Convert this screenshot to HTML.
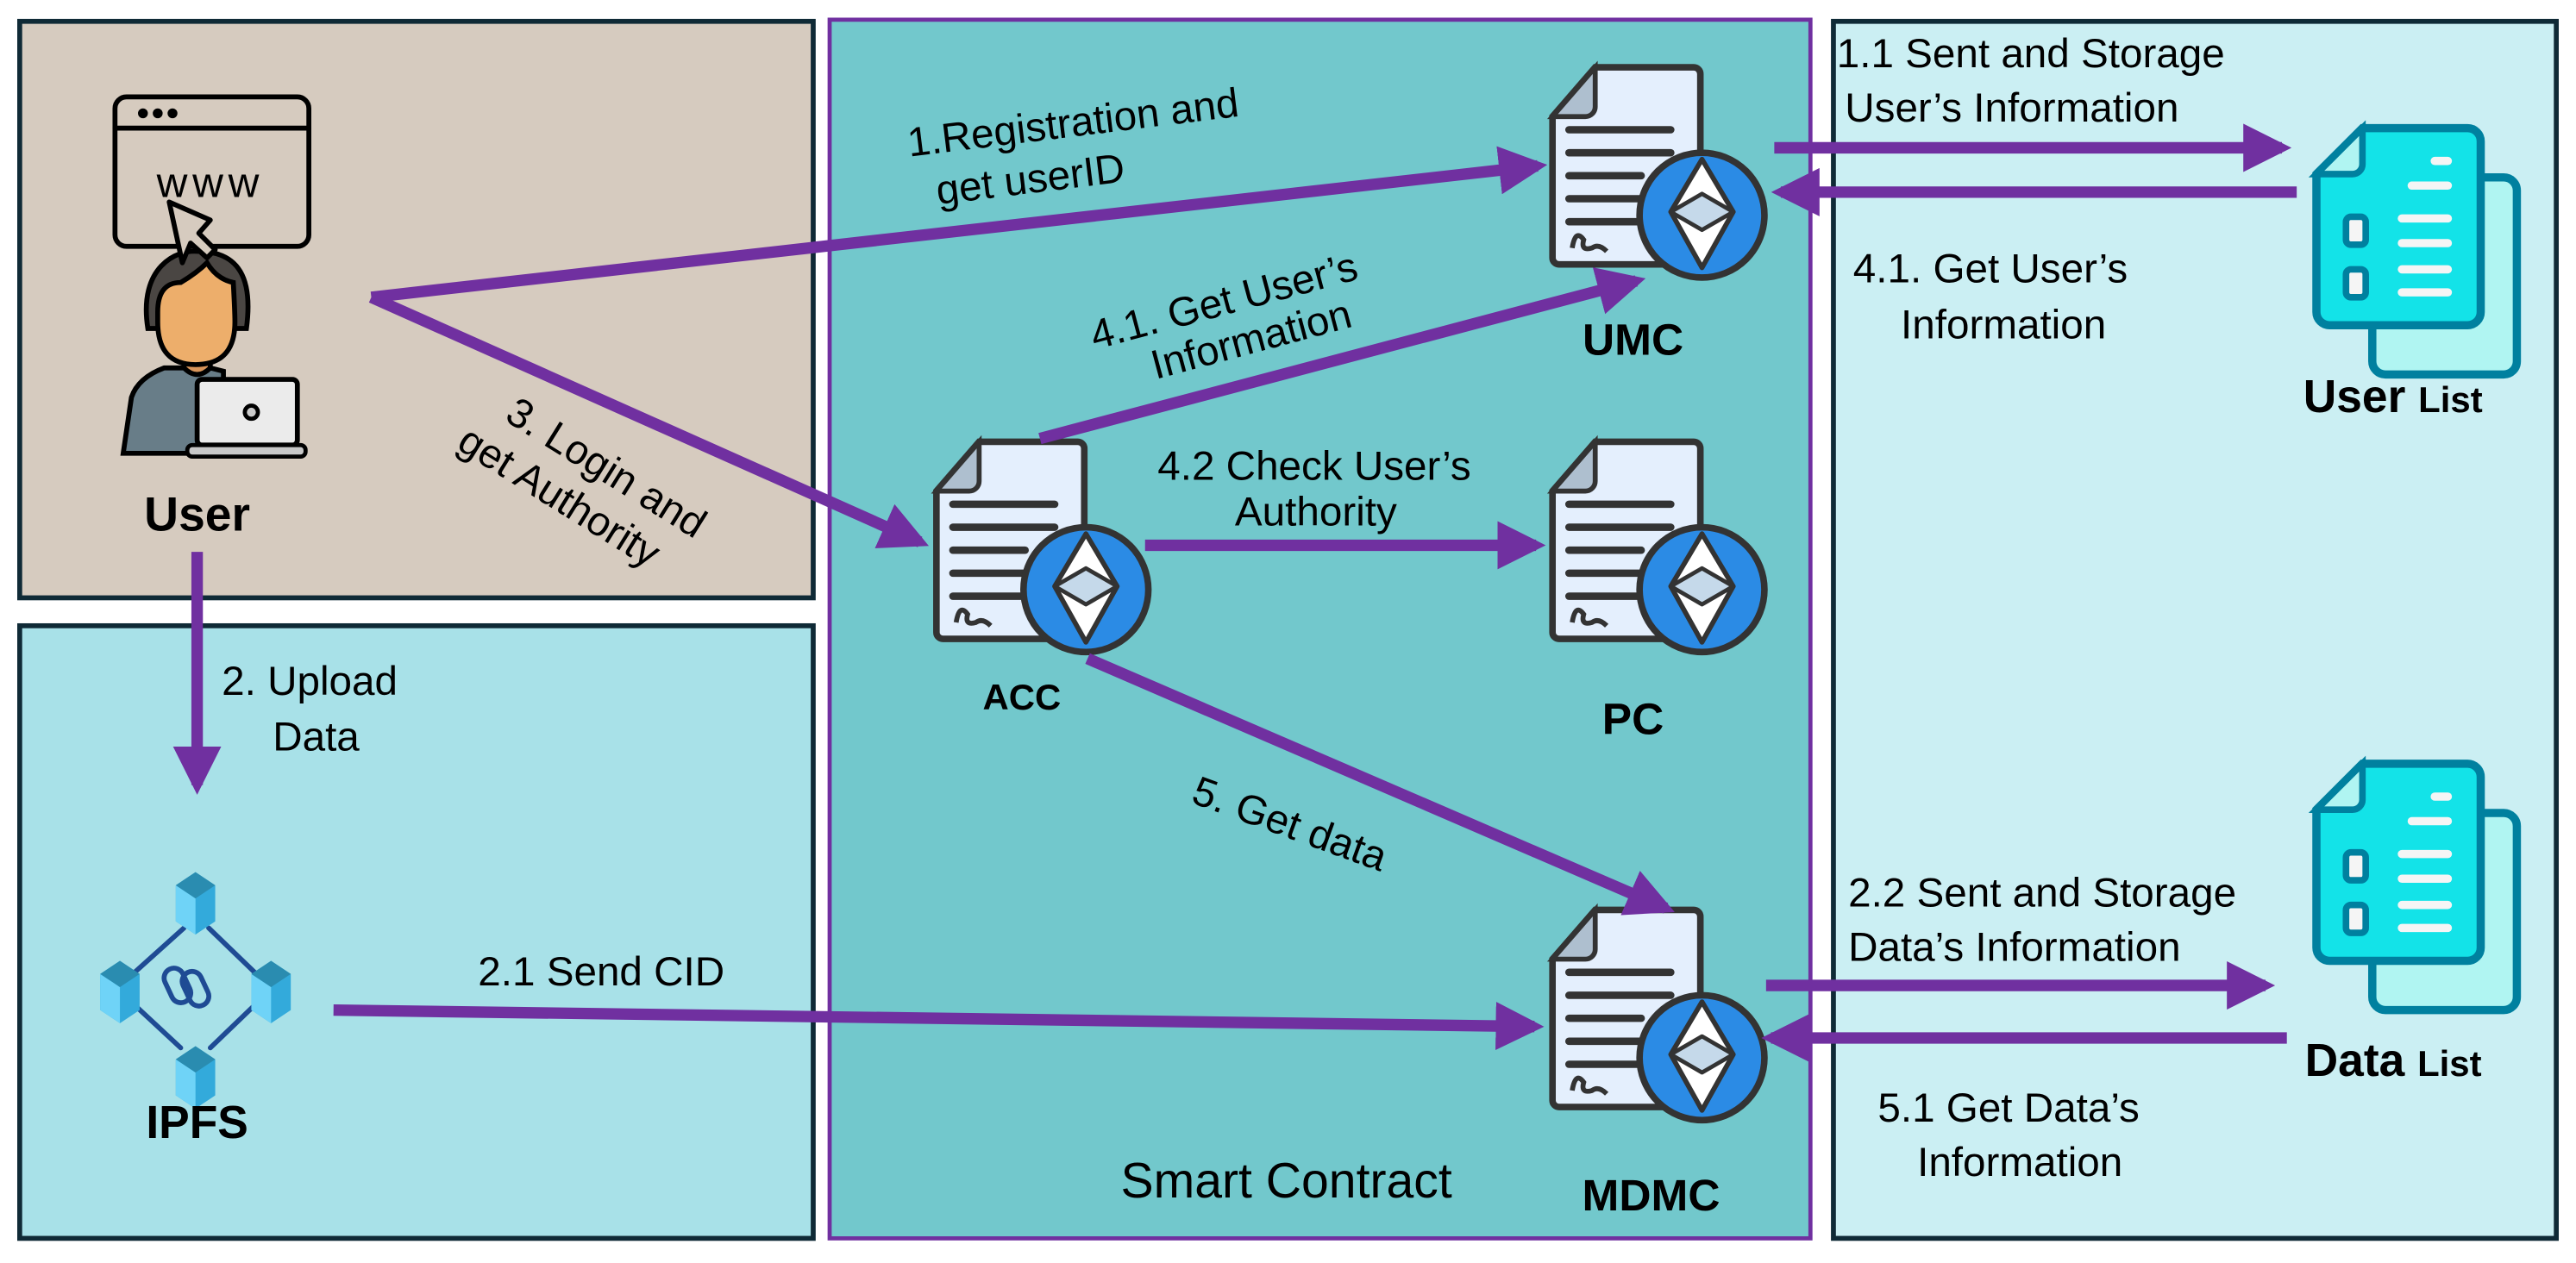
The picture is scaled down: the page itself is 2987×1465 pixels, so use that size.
<!DOCTYPE html>
<html><head><meta charset="utf-8"><style>
html,body{margin:0;padding:0;background:#fff;}
svg{display:block;}
text{font-family:"Liberation Sans",sans-serif;fill:#000;}
.b{font-weight:bold;}
</style></head><body>
<svg width="2987" height="1465" viewBox="0 0 1568 769" preserveAspectRatio="none" xmlns="http://www.w3.org/2000/svg">
<defs>
<marker id="ah" viewBox="0 0 10 10" refX="8" refY="5" markerWidth="4.2" markerHeight="4.2" markerUnits="strokeWidth" orient="auto">
<path d="M0,0 L10,5 L0,10 Z" fill="#7030a0"/></marker>
<g id="contract">
<path d="M26,0 H86 a4,4 0 0 1 4,4 V116 a4,4 0 0 1 -4,4 H4 a4,4 0 0 1 -4,-4 V30 Z" fill="#e4effd" stroke="#333" stroke-width="4"/>
<path d="M0,30 L26,0 V24 a6,6 0 0 1 -6,6 Z" fill="#aebfcf" stroke="#333" stroke-width="3"/>
<g stroke="#333" stroke-width="4.5" stroke-linecap="round">
<line x1="10" y1="38" x2="72" y2="38"/><line x1="10" y1="52" x2="72" y2="52"/>
<line x1="10" y1="66" x2="54" y2="66"/><line x1="10" y1="80" x2="54" y2="80"/><line x1="10" y1="94" x2="54" y2="94"/></g>
<path d="M12,110 q2,-12 7,-5 q-2,7 5,5 q4,-3 9,2" fill="none" stroke="#333" stroke-width="3"/>
<circle cx="91" cy="90" r="38" fill="#2b8be5" stroke="#333" stroke-width="4"/>
<path d="M91,56 L110,88 L91,122 L72,88 Z" fill="#fff" stroke="#333" stroke-width="3" stroke-linejoin="round"/>
<path d="M72,88 L91,77 L110,88 L91,99 Z" fill="#c5d9ea" stroke="#333" stroke-width="2.5" stroke-linejoin="round"/>
</g>
<g id="list">
<rect x="34" y="30" width="88" height="120" rx="8" fill="#b0f5f2" stroke="#00809f" stroke-width="5"/>
<path d="M28,0 H92 a8,8 0 0 1 8,8 V112 a8,8 0 0 1 -8,8 H8 a8,8 0 0 1 -8,-8 V28 Z" fill="#13e3e8" stroke="#00809f" stroke-width="5"/>
<path d="M0,28 L28,0 V22 a6,6 0 0 1 -6,6 Z" fill="#b0f5f2" stroke="#00809f" stroke-width="4"/>
<g stroke="#f5f5f5" stroke-width="5" stroke-linecap="round">
<line x1="72" y1="20" x2="80" y2="20"/><line x1="58" y1="35" x2="80" y2="35"/>
<line x1="52" y1="55" x2="80" y2="55"/><line x1="52" y1="70" x2="80" y2="70"/>
<line x1="52" y1="86" x2="80" y2="86"/><line x1="52" y1="100" x2="80" y2="100"/></g>
<rect x="18" y="54" width="12" height="17" rx="3" fill="#f5f5f5" stroke="#00809f" stroke-width="4"/>
<rect x="18" y="86" width="12" height="17" rx="3" fill="#f5f5f5" stroke="#00809f" stroke-width="4"/>
</g>
<g id="cube">
<path d="M0,8 L12,0 L24,8 L24,30 L12,38 L0,30 Z" fill="#33aadb"/>
<path d="M0,8 L12,16 L12,38 L0,30 Z" fill="#6fd3f7"/>
<path d="M0,8 L12,0 L24,8 L12,16 Z" fill="#2a8cb0"/>
</g>
</defs>

<rect x="12" y="13" width="483" height="351" fill="#d6cbbf" stroke="#0f2a36" stroke-width="3"/>
<rect x="12" y="381" width="483" height="373" fill="#a8e1e8" stroke="#0f2a36" stroke-width="3"/>
<rect x="505" y="12" width="597" height="742" fill="#72c8cc" stroke="#7030a0" stroke-width="2.5"/>
<rect x="1116" y="13" width="440" height="741" fill="#cbeff3" stroke="#0f2a36" stroke-width="3"/>

<!-- user icon -->
<g stroke="#000" stroke-width="3" fill="none" stroke-linecap="round">
<rect x="70" y="59" width="118" height="91" rx="7"/>
<line x1="70" y1="78" x2="188" y2="78"/>
</g>
<circle cx="87" cy="69" r="3" fill="#000"/><circle cx="96" cy="69" r="3" fill="#000"/><circle cx="105" cy="69" r="3" fill="#000"/>
<text x="128" y="120" font-size="26" text-anchor="middle" letter-spacing="3">www</text>
<path d="M90,200 C84,162 108,152 120,153 C146,153 154,170 150,200 Z" fill="#4a4643" stroke="#000" stroke-width="3"/>
<rect x="112" y="215" width="16" height="16" fill="#d9955a" stroke="#000" stroke-width="3"/>
<path d="M96,190 Q96,172 110,172 Q120,166 126,160 Q132,170 142,172 Q143,190 143,196 Q143,222 119,222 Q96,222 96,196 Z" fill="#edae6b" stroke="#000" stroke-width="3"/>
<path d="M75,276 L80,242 Q84,230 100,224 L112,224 Q120,232 128,224 L136,226 L136,276 Z" fill="#687d88" stroke="#000" stroke-width="3"/>
<rect x="120" y="231" width="61" height="40" rx="3" fill="#ebebeb" stroke="#000" stroke-width="3"/>
<rect x="114" y="271" width="72" height="7" rx="3" fill="#c8c8c8" stroke="#000" stroke-width="2.5"/>
<circle cx="153" cy="251" r="4" fill="#ccc" stroke="#000" stroke-width="2.5"/>
<path d="M103,123 L128,134 L121,142 L131,152 L126,157 L116,148 L111,160 Z" fill="#d6cbbf" stroke="#000" stroke-width="3" stroke-linejoin="round"/>
<text x="120" y="323" font-size="29" class="b" text-anchor="middle">User</text>

<!-- IPFS icon -->
<g stroke="#1f4b94" stroke-width="3" fill="none" stroke-linecap="round">
<line x1="112" y1="565" x2="82" y2="592"/><line x1="127" y1="565" x2="155" y2="592"/>
<line x1="82" y1="612" x2="110" y2="638"/><line x1="155" y1="612" x2="128" y2="638"/>
<rect x="102" y="589" width="12" height="22" rx="6" transform="rotate(-25 108 600)"/>
<rect x="113" y="591" width="12" height="22" rx="6" transform="rotate(-25 119 602)"/>
</g>
<use href="#cube" x="107" y="531"/><use href="#cube" x="61" y="585"/><use href="#cube" x="153" y="585"/><use href="#cube" x="107" y="637"/>
<text x="120" y="693" font-size="28" class="b" text-anchor="middle">IPFS</text>

<!-- contracts -->
<use href="#contract" x="945" y="41"/>
<use href="#contract" x="945" y="269"/>
<use href="#contract" x="945" y="554"/>
<use href="#contract" x="570" y="269"/>
<text x="994" y="216" font-size="27" class="b" text-anchor="middle">UMC</text>
<text x="994" y="447" font-size="27" class="b" text-anchor="middle">PC</text>
<text x="1005" y="737" font-size="27" class="b" text-anchor="middle">MDMC</text>
<text x="622" y="432" font-size="22" class="b" text-anchor="middle">ACC</text>

<use href="#list" x="1410" y="78"/>
<use href="#list" x="1410" y="465"/>
<text x="1402" y="251" font-size="28" class="b">User <tspan font-size="22">List</tspan></text>
<text x="1403" y="655" font-size="28" class="b">Data <tspan font-size="22">List</tspan></text>

<g stroke="#7030a0" stroke-width="7" fill="none" marker-end="url(#ah)">
<path d="M226,181 L936,101"/>
<path d="M226,181 L560,330"/>
<path d="M120,336 L120,478"/>
<path d="M633,267 L996,171"/>
<path d="M697,332 L935,332"/>
<path d="M662,401 L1014,553"/>
<path d="M203,615 L934,625"/>
<path d="M1080,90 L1389,90"/>
<path d="M1398,117 L1084,117"/>
<path d="M1075,600 L1379,600"/>
<path d="M1392,632 L1078,632"/>
</g>

<g font-size="25">
<g transform="rotate(-7 655 90)">
<text x="655" y="83" text-anchor="middle">1.Registration and</text>
<text x="625" y="114" text-anchor="middle">get userID</text></g>
<g transform="rotate(-15 745 195)">
<text x="748" y="192" text-anchor="middle">4.1. Get User’s</text>
<text x="758" y="219" text-anchor="middle">Information</text></g>
<g transform="rotate(32 345 295)">
<text x="360" y="282" text-anchor="middle">3. Login and</text>
<text x="345" y="312" text-anchor="middle">get Authority</text></g>
<text x="800" y="292" text-anchor="middle">4.2 Check User’s</text>
<text x="801" y="320" text-anchor="middle">Authority</text>
<g transform="rotate(20 785 502)"><text x="785" y="510" text-anchor="middle">5. Get data</text></g>
<text x="135" y="423">2. Upload</text>
<text x="166" y="457">Data</text>
<text x="366" y="600" text-anchor="middle">2.1 Send CID</text>
<text x="1118" y="41">1.1 Sent and Storage</text>
<text x="1123" y="74">User’s Information</text>
<text x="1128" y="172">4.1. Get User’s</text>
<text x="1157" y="206">Information</text>
<text x="1125" y="552">2.2 Sent and Storage</text>
<text x="1125" y="585">Data’s Information</text>
<text x="1143" y="683">5.1 Get Data’s</text>
<text x="1167" y="716">Information</text>
<text x="783" y="729" font-size="30" text-anchor="middle">Smart Contract</text>
</g>
</svg>
</body></html>
